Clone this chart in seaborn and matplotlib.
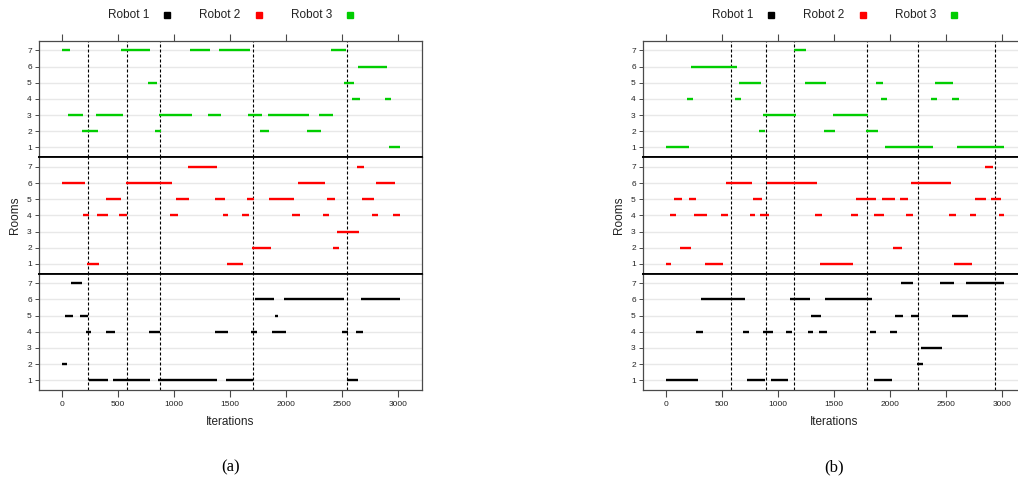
import matplotlib
matplotlib.use("Agg")
import matplotlib.pyplot as plt
from matplotlib.lines import Line2D
import pandas as pd
import seaborn as sns

# ---------------------------------------------------------------------------
# Data: room occupancy intervals per robot, as (room, start_iter, end_iter)
# ---------------------------------------------------------------------------
ROOMS = [1, 2, 3, 4, 5, 6, 7]
X_TICKS = [0, 500, 1000, 1500, 2000, 2500, 3000]
ROBOT_LABELS = ["Robot 1", "Robot 2", "Robot 3"]
ROBOT_COLORS = ["#000000", "#FF0000", "#00CD00"]
PANEL_CAPTIONS = ["(a)", "(b)"]

a_robot1 = [
    (7, 81, 179),
    (6, 1723, 1893), (6, 1982, 2518), (6, 2670, 3018),
    (5, 27, 99), (5, 161, 233), (5, 1902, 1929),
    (4, 215, 256), (4, 393, 474), (4, 777, 878), (4, 1366, 1482),
    (4, 1688, 1741), (4, 1875, 2000), (4, 2500, 2554), (4, 2625, 2688),
    (2, 0, 45),
    (1, 241, 411), (1, 456, 786), (1, 857, 1384), (1, 1465, 1706),
    (1, 2545, 2643),
]
a_robot2 = [
    (7, 1125, 1384), (7, 2634, 2697),
    (6, 0, 206), (6, 571, 982), (6, 2107, 2348), (6, 2804, 2973),
    (5, 393, 527), (5, 1018, 1134), (5, 1366, 1456), (5, 1652, 1712),
    (5, 1848, 2072), (5, 2366, 2438), (5, 2679, 2786),
    (4, 188, 241), (4, 313, 411), (4, 509, 584), (4, 965, 1036),
    (4, 1438, 1482), (4, 1607, 1670), (4, 2054, 2125), (4, 2331, 2384),
    (4, 2768, 2822), (4, 2956, 3018),
    (3, 2456, 2652),
    (2, 1697, 1866), (2, 2420, 2474),
    (1, 224, 331), (1, 1474, 1616),
]
a_robot3 = [
    (7, 0, 70), (7, 527, 786), (7, 1143, 1321), (7, 1402, 1676),
    (7, 2402, 2536),
    (6, 2643, 2902),
    (5, 768, 848), (5, 2518, 2607),
    (4, 2589, 2661), (4, 2884, 2937),
    (3, 54, 188), (3, 304, 545), (3, 866, 1161), (3, 1303, 1420),
    (3, 1661, 1786), (3, 1839, 2205), (3, 2295, 2420),
    (2, 179, 322), (2, 830, 881), (2, 1768, 1848), (2, 2188, 2313),
    (1, 2920, 3018),
]
a_switches = [230, 583, 878, 1708, 2548]

b_robot1 = [
    (7, 2098, 2205), (7, 2446, 2571), (7, 2679, 3018),
    (6, 313, 705), (6, 1107, 1286), (6, 1420, 1839),
    (5, 1295, 1384), (5, 2045, 2116), (5, 2187, 2259), (5, 2554, 2696),
    (4, 268, 330), (4, 688, 741), (4, 866, 955), (4, 1071, 1125),
    (4, 1268, 1313), (4, 1366, 1438), (4, 1821, 1875), (4, 2000, 2063),
    (3, 2277, 2464),
    (2, 2241, 2295),
    (1, 0, 286), (1, 723, 884), (1, 938, 1089), (1, 1857, 2018),
]
b_robot2 = [
    (7, 2848, 2920),
    (6, 536, 768), (6, 902, 1348), (6, 2187, 2545),
    (5, 72, 143), (5, 205, 268), (5, 777, 857), (5, 1696, 1875),
    (5, 1929, 2045), (5, 2089, 2161), (5, 2759, 2857), (5, 2902, 2991),
    (4, 36, 89), (4, 250, 366), (4, 491, 554), (4, 750, 795),
    (4, 839, 920), (4, 1330, 1393), (4, 1652, 1714), (4, 1857, 1946),
    (4, 2143, 2205), (4, 2527, 2589), (4, 2714, 2768), (4, 2973, 3018),
    (2, 125, 223), (2, 2027, 2107),
    (1, 0, 45), (1, 348, 509), (1, 1375, 1670), (1, 2571, 2732),
]
b_robot3 = [
    (7, 1140, 1250),
    (6, 223, 634),
    (5, 652, 848), (5, 1241, 1429), (5, 1875, 1938), (5, 2402, 2562),
    (4, 188, 241), (4, 616, 670), (4, 1920, 1973), (4, 2366, 2420),
    (4, 2554, 2616),
    (3, 866, 1161), (3, 1491, 1801),
    (2, 830, 884), (2, 1411, 1509), (2, 1786, 1893),
    (1, 0, 205), (1, 1955, 2384), (1, 2598, 3018),
]
b_switches = [578, 896, 1140, 1798, 2253, 2935]


def to_long(intervals):
    """Two rows per interval so each one becomes its own line unit."""
    rows = []
    for seg, (room, start, end) in enumerate(intervals):
        rows.append({"seg": seg, "iteration": start, "room": room})
        rows.append({"seg": seg, "iteration": end, "room": room})
    return pd.DataFrame(rows)


# ---------------------------------------------------------------------------
# Styling
# ---------------------------------------------------------------------------
sns.set_theme(style="white")
plt.rcParams["font.family"] = ["Liberation Sans", "DejaVu Sans"]

W, H = 1018, 483
fig = plt.figure(figsize=(W / 100, H / 100), dpi=100)

FRAME = "#4a4a4a"
TEXT = "#222222"
panels = [
    (38.7, [a_robot1, a_robot2, a_robot3], a_switches),
    (642.7, [b_robot1, b_robot2, b_robot3], b_switches),
]
ax_w_px = 383.3
top_px, bot_px = 40.7, 390.0
sub_h_px = (bot_px - top_px) / 3

for p, (left_px, robots, switches) in enumerate(panels):
    # stacked from top: robot 3, robot 2, robot 1
    order = [2, 1, 0]
    for k, r in enumerate(order):
        y0 = H - (top_px + (k + 1) * sub_h_px)
        ax = fig.add_axes([left_px / W, y0 / H, ax_w_px / W, sub_h_px / H])
        ax.set_xlim(-208, 3214)
        ax.set_ylim(0.4, 7.6)
        ax.set_yticks(ROOMS)
        ax.set_xticks(X_TICKS)
        ax.grid(axis="y", color="#E8E8E8", lw=1.0)
        ax.grid(axis="x", visible=False)
        ax.set_axisbelow(True)

        for xs in switches:
            ax.axvline(xs, color="black", lw=0.8, dashes=(2.7, 1.8), zorder=1)

        df = to_long(robots[r])
        sns.lineplot(data=df, x="iteration", y="room", units="seg",
                     estimator=None, color=ROBOT_COLORS[r], lw=1.7,
                     solid_capstyle="butt", ax=ax, zorder=3)
        ax.set_xlabel("")
        ax.set_ylabel("")

        for s in ax.spines.values():
            s.set_color(FRAME)
            s.set_linewidth(0.9)
        if k > 0:
            ax.spines["top"].set_color("black")
            ax.spines["top"].set_linewidth(1.3)
        if k < 2:
            ax.spines["bottom"].set_color("black")
            ax.spines["bottom"].set_linewidth(1.3)

        ax.tick_params(axis="y", left=True, length=3, width=0.7,
                       color=FRAME, labelsize=6, labelcolor=TEXT, pad=2)
        if k == 0:
            ax.tick_params(axis="x", top=True, bottom=False, labeltop=False,
                           labelbottom=False, length=5, width=0.8, color=FRAME)
        elif k == 2:
            ax.tick_params(axis="x", top=False, bottom=True, labelbottom=True,
                           length=5, width=0.8, color=FRAME, labelsize=6,
                           labelcolor=TEXT, pad=3)
        else:
            ax.tick_params(axis="x", top=False, bottom=False,
                           labelbottom=False)

    cx = (left_px + ax_w_px / 2) / W
    fig.text(cx, 1 - 422 / H, "Iterations", ha="center", va="center",
             fontsize=8.5, color=TEXT)
    fig.text((left_px - 24) / W, 1 - 215 / H, "Rooms", rotation=90,
             ha="center", va="center", fontsize=8.5, color=TEXT)
    fig.text(cx, 1 - 467 / H, PANEL_CAPTIONS[p], ha="center", va="center",
             fontsize=12, family=["Liberation Serif", "DejaVu Serif"],
             color="black")

    # legend row above the panel
    off = left_px - 38.7
    text_x = [108, 199, 291]
    mark_x = [167, 259, 350]
    for i in range(3):
        fig.text((text_x[i] + off) / W, 1 - 15 / H, ROBOT_LABELS[i],
                 ha="left", va="center", fontsize=8.5, color=TEXT)
        fig.add_artist(Line2D([(mark_x[i] + off) / W], [1 - 15 / H],
                              transform=fig.transFigure, marker="s",
                              markersize=4, ls="", color=ROBOT_COLORS[i]))

fig.savefig("out.png", dpi=100)
